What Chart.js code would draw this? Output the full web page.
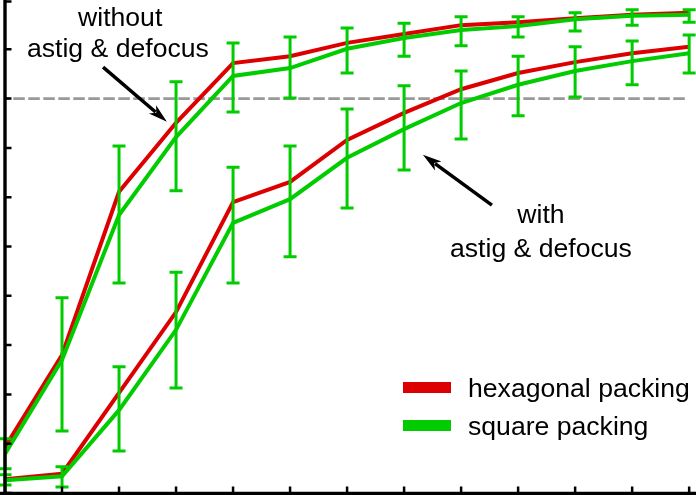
<!DOCTYPE html>
<html>
<head>
<meta charset="utf-8">
<script src="https://cdn.jsdelivr.net/npm/chart.js@4"></script>
<style>
html,body{margin:0;padding:0;background:#fff;}
canvas{display:block;}
</style>
</head>
<body>
<canvas id="c" width="696" height="495"></canvas>
<script>
// ---- data ----
const xCategories = [0,1,2,3,4,5,6,7,8,9,10,11,12];
const yTickValues = [0,0.1,0.2,0.3,0.4,0.5,0.6,0.7,0.8,0.9,1.0];

const hexWithout = [0.093,0.280,0.611,0.751,0.872,0.886,0.913,0.931,0.949,0.955,0.963,0.970,0.974];
const sqWithout  = [0.079,0.270,0.564,0.722,0.846,0.862,0.901,0.923,0.939,0.947,0.961,0.968,0.970];
const sqWithoutLo= [0.049,0.126,0.426,0.613,0.773,0.801,0.852,0.886,0.907,0.925,0.937,0.949,0.955];
const sqWithoutHi= [0.110,0.396,0.704,0.834,0.913,0.925,0.943,0.953,0.966,0.966,0.974,0.980,0.980];

const hexWith    = [0.028,0.039,0.203,0.367,0.590,0.631,0.716,0.771,0.819,0.852,0.874,0.892,0.905];
const sqWith     = [0.026,0.034,0.168,0.331,0.548,0.596,0.680,0.738,0.791,0.828,0.856,0.876,0.892];
const sqWithLo   = [0.016,0.012,0.085,0.213,0.426,0.479,0.578,0.655,0.718,0.765,0.803,0.828,0.852];
const sqWithHi   = [0.037,0.053,0.256,0.448,0.661,0.704,0.779,0.826,0.856,0.886,0.905,0.917,0.929];

const thresholdX = [0, 11.95];
const thresholdY = 0.8;

const legendLabels = ['hexagonal packing', 'square packing'];

// ---- styles ----
const RED = '#dd0000';
const GREEN = '#00cc00';
const GRAY = '#999999';
const FONT = '26.6px "Liberation Sans", Arial, Helvetica, sans-serif';

const pts = (arr) => arr.map((v,i) => ({x: xCategories[i], y: v}));

const annotations = [
  {type:'text', text:'without', x:2.02, y:0.947},
  {type:'text', text:'astig & defocus', x:1.98, y:0.884},
  {type:'text', text:'with', x:9.40, y:0.548},
  {type:'text', text:'astig & defocus', x:9.40, y:0.479},
  {type:'arrow', x1:1.72, y1:0.864, x2:2.84, y2:0.753},
  {type:'arrow', x1:8.54, y1:0.584, x2:7.33, y2:0.686}
];

const errorSets = [
  {lo: sqWithoutLo, hi: sqWithoutHi},
  {lo: sqWithLo, hi: sqWithHi}
];

const overlay = {
  id: 'overlay',
  afterDatasetsDraw(chart) {
    const ctx = chart.ctx;
    const xs = chart.scales.x, ys = chart.scales.y;
    const area = chart.chartArea;
    ctx.save();
    // error bars
    ctx.strokeStyle = GREEN;
    ctx.lineWidth = 3;
    ctx.lineCap = 'butt';
    errorSets.forEach(es => {
      xCategories.forEach((c,i) => {
        const px = xs.getPixelForValue(c);
        const pLo = ys.getPixelForValue(es.lo[i]);
        const pHi = ys.getPixelForValue(es.hi[i]);
        ctx.beginPath();
        ctx.moveTo(px, pLo); ctx.lineTo(px, pHi);
        ctx.moveTo(px-6.5, pLo); ctx.lineTo(px+6.5, pLo);
        ctx.moveTo(px-6.5, pHi); ctx.lineTo(px+6.5, pHi);
        ctx.stroke();
      });
    });
    // axes
    ctx.strokeStyle = '#000';
    ctx.lineWidth = 3.4;
    ctx.beginPath();
    ctx.moveTo(area.left, 0); ctx.lineTo(area.left, chart.height);
    ctx.stroke();
    ctx.lineWidth = 3.5;
    ctx.beginPath();
    ctx.moveTo(0, area.bottom + 0.5); ctx.lineTo(chart.width, area.bottom + 0.5);
    ctx.stroke();
    // ticks
    ctx.lineWidth = 2.5;
    ctx.beginPath();
    yTickValues.forEach(v => {
      const py = Math.max(1.5, ys.getPixelForValue(v));
      ctx.moveTo(area.left, py); ctx.lineTo(area.left + 6.5, py);
    });
    xCategories.forEach(c => {
      const px = xs.getPixelForValue(c);
      ctx.moveTo(px, area.bottom); ctx.lineTo(px, area.bottom - 6.5);
    });
    ctx.stroke();
    // annotations
    ctx.fillStyle = '#000';
    ctx.font = FONT;
    ctx.textAlign = 'center';
    ctx.textBaseline = 'alphabetic';
    annotations.forEach(a => {
      if (a.type === 'text') {
        ctx.fillText(a.text, xs.getPixelForValue(a.x), ys.getPixelForValue(a.y));
      } else {
        const x1 = xs.getPixelForValue(a.x1), y1 = ys.getPixelForValue(a.y1);
        const x2 = xs.getPixelForValue(a.x2), y2 = ys.getPixelForValue(a.y2);
        const ang = Math.atan2(y2-y1, x2-x1);
        const hl = 19, hw = 5.5;
        const bx = x2 - hl*Math.cos(ang), by = y2 - hl*Math.sin(ang);
        ctx.strokeStyle = '#000';
        ctx.lineWidth = 3.5;
        ctx.beginPath();
        ctx.moveTo(x1, y1); ctx.lineTo(bx + 4*Math.cos(ang), by + 4*Math.sin(ang));
        ctx.stroke();
        ctx.beginPath();
        ctx.moveTo(x2, y2);
        ctx.lineTo(bx - hw*Math.sin(ang), by + hw*Math.cos(ang));
        ctx.lineTo(bx + 5*Math.cos(ang), by + 5*Math.sin(ang));
        ctx.lineTo(bx + hw*Math.sin(ang), by - hw*Math.cos(ang));
        ctx.closePath();
        ctx.fill();
      }
    });
    // legend
    const lx = area.left + 398, ly = area.top + 382;
    const colors = [RED, GREEN];
    ctx.textAlign = 'left';
    legendLabels.forEach((lab, i) => {
      const yy = ly + i*38;
      ctx.fillStyle = colors[i];
      ctx.fillRect(lx, yy, 48, 11);
      ctx.fillStyle = '#000';
      ctx.fillText(lab, lx + 65, yy + 14.5);
    });
    ctx.restore();
  }
};

new Chart(document.getElementById('c'), {
  type: 'line',
  data: {
    datasets: [
      {label: 'square packing (with)', data: pts(sqWith), borderColor: GREEN, borderWidth: 4, order: 1},
      {label: 'square packing (without)', data: pts(sqWithout), borderColor: GREEN, borderWidth: 4, order: 1},
      {label: 'hexagonal packing (with)', data: pts(hexWith), borderColor: RED, borderWidth: 4, order: 2},
      {label: 'hexagonal packing (without)', data: pts(hexWithout), borderColor: RED, borderWidth: 4, order: 2},
      {label: 'threshold', data: thresholdX.map(x => ({x: x, y: thresholdY})), borderColor: GRAY, borderWidth: 2.8, borderDash: [11.5,3.5], borderDashOffset: 6.7, order: 3}
    ]
  },
  options: {
    responsive: false,
    animation: false,
    devicePixelRatio: 1,
    layout: {padding: {left: 5, right: 0, top: 0, bottom: 2}},
    elements: {point: {radius: 0}, line: {tension: 0, fill: false}},
    scales: {
      x: {type: 'linear', min: 0, max: 12.12, display: false},
      y: {type: 'linear', min: 0, max: 1, display: false}
    },
    plugins: {legend: {display: false}, tooltip: {enabled: false}}
  },
  plugins: [overlay]
});
</script>
</body>
</html>
